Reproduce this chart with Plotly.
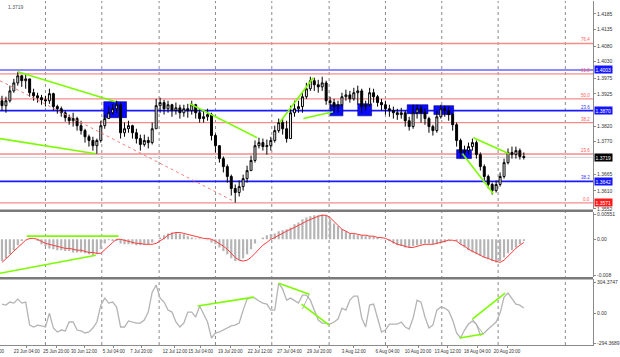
import plotly.graph_objects as go

# ---------------- DATA ----------------
closes = [
    1.3887, 1.3903, 1.3935, 1.3961, 1.3984, 1.3968, 1.3974, 1.3929, 1.3919, 1.3913,
    1.3906, 1.3903, 1.3926, 1.3884, 1.3877, 1.3864, 1.3848, 1.3838, 1.3845, 1.3822,
    1.3806, 1.3786, 1.3774, 1.3757, 1.3774, 1.3822, 1.3845, 1.3864, 1.3877, 1.3890,
    1.3799, 1.3812, 1.3822, 1.3799, 1.3780, 1.3761, 1.3774, 1.3767, 1.3812, 1.3887,
    1.3897, 1.3877, 1.3890, 1.3871, 1.3880, 1.3864, 1.3877, 1.3871, 1.3890, 1.3864,
    1.3845, 1.3851, 1.3858, 1.3790, 1.3757, 1.3715, 1.3689, 1.3657, 1.3618, 1.3605,
    1.3624, 1.3650, 1.3676, 1.3709, 1.3757, 1.3767, 1.3754, 1.3757, 1.3774, 1.3806,
    1.3832, 1.3812, 1.3780, 1.3864, 1.3877, 1.3884, 1.3916, 1.3942, 1.3968, 1.3955,
    1.3948, 1.3961, 1.3903, 1.3897, 1.3884, 1.3890, 1.3916, 1.3922, 1.3909, 1.3929,
    1.3935, 1.3884, 1.3890, 1.3929, 1.3916, 1.3897, 1.3890, 1.3877, 1.3871, 1.3864,
    1.3858, 1.3864, 1.3838, 1.3819, 1.3864, 1.3877, 1.3864, 1.3845, 1.3819, 1.3806,
    1.3851, 1.3877, 1.3871, 1.3858, 1.3825, 1.3774, 1.3735, 1.3741, 1.3754, 1.3767,
    1.3728, 1.3689, 1.3657, 1.3631, 1.3611, 1.3631, 1.3657, 1.3702, 1.3735, 1.3728,
    1.3741, 1.3722, 1.3719]

highs = [
    1.3919, 1.3916, 1.3952, 1.3974, 1.3997, 1.3987, 1.3990, 1.3974, 1.3942, 1.3929,
    1.3922, 1.3919, 1.3942, 1.3929, 1.3890, 1.3884, 1.3871, 1.3858, 1.3864, 1.3851,
    1.3838, 1.3812, 1.3793, 1.3786, 1.3780, 1.3838, 1.3858, 1.3884, 1.3893, 1.3903,
    1.3897, 1.3832, 1.3838, 1.3825, 1.3812, 1.3793, 1.3793, 1.3786, 1.3832, 1.3909,
    1.3913, 1.3906, 1.3903, 1.3893, 1.3897, 1.3890, 1.3890, 1.3893, 1.3903, 1.3893,
    1.3877, 1.3871, 1.3877, 1.3864, 1.3796, 1.3757, 1.3722, 1.3696, 1.3663, 1.3631,
    1.3644, 1.3663, 1.3692, 1.3725, 1.3774, 1.3783, 1.3780, 1.3777, 1.3786, 1.3822,
    1.3845, 1.3845, 1.3838, 1.3887, 1.3903, 1.3903, 1.3929, 1.3961, 1.3981, 1.3978,
    1.3971, 1.3981, 1.3968, 1.3916, 1.3909, 1.3903, 1.3929, 1.3939, 1.3935, 1.3945,
    1.3952, 1.3942, 1.3903, 1.3945, 1.3942, 1.3922, 1.3909, 1.3903, 1.3890, 1.3884,
    1.3877, 1.3880, 1.3871, 1.3851, 1.3890, 1.3890, 1.3887, 1.3877, 1.3851, 1.3825,
    1.3871, 1.3890, 1.3887, 1.3884, 1.3864, 1.3832, 1.3780, 1.3757, 1.3767, 1.3780,
    1.3774, 1.3735, 1.3696, 1.3663, 1.3637, 1.3644, 1.3670, 1.3715, 1.3748, 1.3754,
    1.3754, 1.3748, 1.3735]

lows = [
    1.3871, 1.3864, 1.3897, 1.3929, 1.3952, 1.3948, 1.3942, 1.3916, 1.3903, 1.3897,
    1.3890, 1.3884, 1.3893, 1.3871, 1.3861, 1.3851, 1.3835, 1.3825, 1.3819, 1.3806,
    1.3793, 1.3767, 1.3754, 1.3741, 1.3731, 1.3767, 1.3812, 1.3845, 1.3858, 1.3864,
    1.3780, 1.3786, 1.3799, 1.3780, 1.3764, 1.3741, 1.3754, 1.3748, 1.3761, 1.3812,
    1.3864, 1.3858, 1.3864, 1.3851, 1.3858, 1.3845, 1.3851, 1.3848, 1.3858, 1.3845,
    1.3832, 1.3832, 1.3838, 1.3774, 1.3735, 1.3702, 1.3670, 1.3637, 1.3595, 1.3572,
    1.3592, 1.3611, 1.3637, 1.3676, 1.3702, 1.3748, 1.3741, 1.3728, 1.3741, 1.3767,
    1.3799, 1.3793, 1.3767, 1.3780, 1.3851, 1.3864, 1.3864, 1.3909, 1.3935, 1.3935,
    1.3929, 1.3935, 1.3890, 1.3877, 1.3864, 1.3864, 1.3884, 1.3903, 1.3897, 1.3903,
    1.3890, 1.3864, 1.3871, 1.3884, 1.3897, 1.3884, 1.3871, 1.3858, 1.3851, 1.3845,
    1.3841, 1.3845, 1.3819, 1.3806, 1.3812, 1.3845, 1.3832, 1.3825, 1.3799, 1.3790,
    1.3799, 1.3845, 1.3851, 1.3838, 1.3806, 1.3754, 1.3718, 1.3722, 1.3728, 1.3741,
    1.3715, 1.3676, 1.3644, 1.3618, 1.3598, 1.3605, 1.3624, 1.3650, 1.3696, 1.3715,
    1.3715, 1.3712, 1.3712]

first_open = 1.3903
opens = [first_open] + closes[:-1]
bars = list(range(len(closes)))

macd_hist = [
    -0.0048, -0.0042, -0.0033, -0.0024, -0.0013, -0.0004, 0.0, 0.0002, 0.0, -0.0004,
    -0.0011, -0.0015, -0.0020, -0.0022, -0.0024, -0.0024, -0.0026, -0.0026, -0.0029, -0.0029,
    -0.0029, -0.0031, -0.0033, -0.0035, -0.0033, -0.0022, -0.0009, -0.0002, -0.0004, -0.0004,
    -0.0009, -0.0011, -0.0011, -0.0011, -0.0013, -0.0013, -0.0011, -0.0011, -0.0007, 0.0,
    0.0004, 0.0009, 0.0013, 0.0015, 0.0015, 0.0013, 0.0011, 0.0007, 0.0004, 0.0002,
    0.0002, 0.0, -0.0002, -0.0007, -0.0011, -0.0018, -0.0026, -0.0033, -0.0042, -0.0048,
    -0.0046, -0.0042, -0.0033, -0.0022, -0.0009, 0.0, 0.0004, 0.0009, 0.0011, 0.0013,
    0.0018, 0.0020, 0.0022, 0.0026, 0.0033, 0.0037, 0.0044, 0.0048, 0.0051, 0.0053,
    0.0053, 0.0055, 0.0053, 0.0044, 0.0035, 0.0029, 0.0022, 0.0018, 0.0013, 0.0011,
    0.0009, 0.0009, 0.0007, 0.0007, 0.0007, 0.0004, 0.0002, 0.0, -0.0004, -0.0009,
    -0.0013, -0.0015, -0.0018, -0.0018, -0.0015, -0.0013, -0.0011, -0.0009, -0.0009, -0.0011,
    -0.0011, -0.0009, -0.0007, -0.0002, 0.0, -0.0004, -0.0011, -0.0018, -0.0024, -0.0029,
    -0.0033, -0.0037, -0.0040, -0.0044, -0.0048, -0.0051, -0.0048, -0.0040, -0.0031, -0.0024,
    -0.0018, -0.0011, -0.0004]

macd_signal = [
    -0.0051, -0.0044, -0.0035, -0.0026, -0.0018, -0.0009, -0.0002, 0.0002, 0.0002, 0.0,
    -0.0004, -0.0009, -0.0011, -0.0013, -0.0015, -0.0018, -0.0020, -0.0020, -0.0022, -0.0024,
    -0.0024, -0.0026, -0.0029, -0.0029, -0.0031, -0.0031, -0.0024, -0.0015, -0.0007, 0.0,
    0.0, -0.0002, -0.0004, -0.0007, -0.0009, -0.0009, -0.0011, -0.0011, -0.0011, -0.0009,
    -0.0004, 0.0002, 0.0009, 0.0013, 0.0015, 0.0015, 0.0013, 0.0011, 0.0009, 0.0007,
    0.0004, 0.0002, 0.0002, 0.0, -0.0004, -0.0009, -0.0015, -0.0022, -0.0031, -0.0040,
    -0.0046, -0.0048, -0.0046, -0.0040, -0.0031, -0.0022, -0.0013, -0.0007, 0.0, 0.0004,
    0.0009, 0.0013, 0.0018, 0.0022, 0.0026, 0.0031, 0.0035, 0.0040, 0.0044, 0.0048,
    0.0051, 0.0053, 0.0053, 0.0048, 0.0040, 0.0031, 0.0022, 0.0018, 0.0013, 0.0013,
    0.0011, 0.0009, 0.0009, 0.0007, 0.0007, 0.0004, 0.0004, 0.0002, -0.0002, -0.0007,
    -0.0011, -0.0013, -0.0015, -0.0018, -0.0018, -0.0015, -0.0013, -0.0011, -0.0011, -0.0011,
    -0.0009, -0.0007, -0.0004, -0.0002, -0.0002, -0.0004, -0.0011, -0.0015, -0.0022, -0.0026,
    -0.0031, -0.0035, -0.0040, -0.0042, -0.0046, -0.0048, -0.0051, -0.0046, -0.0037, -0.0029,
    -0.0020, -0.0013, -0.0007]

cci = [
    88, 78, 108, 98, 137, 98, 108, -118, -137, -118,
    -127, -137, 0, -147, -186, -167, -176, -88, -88, -167,
    -176, -196, -186, -147, -88, 78, 147, 98, 108, 59,
    -137, -137, -78, -88, -98, -98, -69, 10, 206, 274,
    147, 108, 29, 10, -88, -137, -98, 10, 10, -39,
    69, -10, -88, -245, -196, -186, -167, -147, -127, -118,
    -98, 29, 137, 157, 147, 118, 98, 88, 29, 29,
    294, 235, 127, 147, 118, 98, 176, 176, 127, 29,
    -69, -98, -98, -108, -88, -59, 49, 29, 127, 167,
    167, -49, -137, 78, 88, -49, -186, -167, -108, -108,
    -108, -88, -137, -157, -49, 127, 108, -39, -147, -118,
    29, 59, 49, 20, -69, -196, -245, -167, -108, -78,
    -108, -216, -196, -157, -118, -88, 0, 157, 196, 147,
    88, 78, 49]

xtick_pos = [6.25, 13.75, 20.75, 28.25, 35.25, 43.75, 50.25, 57.75, 65.25,
             72.75, 80.25, 89, 97.5, 105.25, 112.75, 120.25, 127.75]
xtick_text = ["23 Jun 04:00", "25 Jun 20:00", "30 Jun 12:00", "5 Jul 04:00",
              "7 Jul 20:00", "12 Jul 12:00", "15 Jul 04:00", "19 Jul 20:00",
              "22 Jul 12:00", "27 Jul 04:00", "29 Jul 20:00", "3 Aug 12:00",
              "6 Aug 04:00", "10 Aug 20:00", "13 Aug 12:00", "18 Aug 04:00",
              "20 Aug 20:00"]
week_seps = [11, 25.25, 39.75, 54, 68.25, 82.75, 97, 111.25, 125.5, 142.5]

price_ticks = [1.4185, 1.4135, 1.4080, 1.4030, 1.3975, 1.3925, 1.3820,
               1.3770, 1.3665, 1.3610, 1.3552]
fib_levels = [1.4089, 1.3990, 1.3909, 1.3832, 1.3730, 1.3571]
fib_names = ["76.4", "61.8", "50.0", "38.2", "23.6", "0.0"]
blue_levels = [1.3871, 1.3641]
blue_names = ["23.6", "38.2"]
upper_level = 1.4003
current_price = 1.3719
boxed_values = [1.4003, 1.3870, 1.3719, 1.3642, 1.3571]
boxed_texts = ["1.4003", "1.3870", "1.3719", "1.3642", "1.3571"]
boxed_colors = ["#1414ff", "#1414ff", "#000000", "#1414ff", "#ff1a1a"]

zone_x0 = [25.75, 83.0, 90.0, 102.5, 109.25, 115.0]
zone_x1 = [31.5, 86.25, 93.5, 107.75, 114.25, 118.75]
zone_p0 = [1.3848, 1.3854, 1.3854, 1.3861, 1.3858, 1.3715]
zone_p1 = [1.3900, 1.3890, 1.3893, 1.3890, 1.3887, 1.3744]

price_trend_x = [(4, 28.75), (-0.5, 23.75), (47.5, 64.5), (70.25, 78.75),
                 (76.25, 83.75), (119.25, 128.25), (116.5, 124.25)]
price_trend_y = [(1.3997, 1.3900), (1.3780, 1.3731), (1.3893, 1.3783), (1.3832, 1.3978),
                 (1.3845, 1.3867), (1.3783, 1.3731), (1.3731, 1.3602)]
channel_x = [-0.5, 58.25]
channel_y = [1.3968, 1.3579]

macd_trend_x = [(6.25, 29.5), (-0.5, 23.75)]
macd_trend_y = [(0.0007, 0.0007), (-0.0075, -0.0035)]

cci_trend_x = [(49.5, 63.75), (70, 77.75), (75.75, 82.75), (115.75, 121.75), (119, 127.25)]
cci_trend_y = [(69, 157), (294, 186), (88, -118), (-245, -206), (-59, 196)]
cci_link_x = [(77.75, 76), (119, 121.75)]
cci_link_y = [(186, 39), (-59, -206)]

# ---------------- FIGURE ----------------
FONT = "Liberation Sans"
GREEN = "#7cfc00"
fig = go.Figure()

fig.add_trace(go.Candlestick(
    x=bars, open=opens, high=highs, low=lows, close=closes,
    increasing=dict(line=dict(color="black", width=1), fillcolor="white"),
    decreasing=dict(line=dict(color="black", width=1), fillcolor="black"),
    whiskerwidth=0, xaxis="x", yaxis="y", showlegend=False, hoverinfo="skip"))

fig.add_trace(go.Scatter(x=channel_x, y=channel_y, mode="lines",
                         line=dict(color="#f08080", width=1, dash="dot"),
                         yaxis="y", showlegend=False, hoverinfo="skip"))
for xs, ys in zip(price_trend_x, price_trend_y):
    fig.add_trace(go.Scatter(x=list(xs), y=list(ys), mode="lines",
                             line=dict(color=GREEN, width=1.6),
                             yaxis="y", showlegend=False, hoverinfo="skip"))

fig.add_trace(go.Bar(x=bars, y=macd_hist, width=0.55, marker=dict(color="#b4b4b4", line=dict(width=0)),
                     yaxis="y2", showlegend=False, hoverinfo="skip"))
fig.add_trace(go.Scatter(x=bars, y=macd_signal, mode="lines",
                         line=dict(color="#ff3b3b", width=1),
                         yaxis="y2", showlegend=False, hoverinfo="skip"))
for xs, ys in zip(macd_trend_x, macd_trend_y):
    fig.add_trace(go.Scatter(x=list(xs), y=list(ys), mode="lines",
                             line=dict(color=GREEN, width=1.6),
                             yaxis="y2", showlegend=False, hoverinfo="skip"))

fig.add_trace(go.Scatter(x=bars, y=cci, mode="lines",
                         line=dict(color="#b4b4b4", width=1.3),
                         yaxis="y3", showlegend=False, hoverinfo="skip"))
for xs, ys in zip(cci_link_x, cci_link_y):
    fig.add_trace(go.Scatter(x=list(xs), y=list(ys), mode="lines",
                             line=dict(color="#a0a0a0", width=0.8),
                             yaxis="y3", showlegend=False, hoverinfo="skip"))
for xs, ys in zip(cci_trend_x, cci_trend_y):
    fig.add_trace(go.Scatter(x=list(xs), y=list(ys), mode="lines",
                             line=dict(color=GREEN, width=1.6),
                             yaxis="y3", showlegend=False, hoverinfo="skip"))

shapes = []
for s in week_seps:
    shapes.append(dict(type="line", xref="x", yref="paper", x0=s, x1=s, y0=0, y1=1,
                       line=dict(color="#8a8a8a", width=1, dash="dot"), layer="below"))
for a, b, p0, p1 in zip(zone_x0, zone_x1, zone_p0, zone_p1):
    shapes.append(dict(type="rect", xref="x", yref="y", x0=a, x1=b, y0=p0, y1=p1,
                       fillcolor="#0a0aff", line=dict(color="#000080", width=0.6), layer="below"))
for lv in fib_levels:
    shapes.append(dict(type="line", xref="paper", yref="y", x0=0, x1=1, y0=lv, y1=lv,
                       line=dict(color="#f58c8c", width=1.3), layer="below"))
shapes.append(dict(type="line", xref="paper", yref="y", x0=0, x1=1, y0=upper_level, y1=upper_level,
                   line=dict(color="#8c8cff", width=2), layer="below"))
for lv in blue_levels:
    shapes.append(dict(type="line", xref="paper", yref="y", x0=0, x1=1, y0=lv, y1=lv,
                       line=dict(color="#1a1aff", width=1.6), layer="below"))
shapes.append(dict(type="line", xref="paper", yref="y", x0=0, x1=1, y0=current_price, y1=current_price,
                   line=dict(color="#d2d2d2", width=1), layer="below"))
for yp in [0.3899, 0.1942]:
    shapes.append(dict(type="line", xref="paper", yref="paper", x0=0, x1=1, y0=yp, y1=yp,
                       line=dict(color="#7a7a7a", width=2.5)))

annotations = []
for lv, nm in zip(fib_levels, fib_names):
    annotations.append(dict(xref="paper", yref="y", x=0.998, y=lv, text=nm, showarrow=False,
                            xanchor="right", yanchor="bottom", yshift=-1,
                            font=dict(family=FONT, size=4.5, color="#ff5a5a")))
for lv, nm in zip(blue_levels, blue_names):
    annotations.append(dict(xref="paper", yref="y", x=0.998, y=lv, text=nm, showarrow=False,
                            xanchor="right", yanchor="bottom", yshift=-1,
                            font=dict(family=FONT, size=4.5, color="#3030ff")))
for v, t, c in zip(boxed_values, boxed_texts, boxed_colors):
    annotations.append(dict(xref="paper", yref="y", x=1, y=v, text=t, showarrow=False,
                            xanchor="left", xshift=1, bgcolor=c, borderpad=0.5,
                            font=dict(family=FONT, size=5, color="white")))
annotations.append(dict(xref="paper", yref="paper", x=0.01, y=0.997, text="1.3719",
                        showarrow=False, xanchor="left", yanchor="top",
                        font=dict(family=FONT, size=5, color="#555555")))
annotations.append(dict(xref="paper", yref="paper", x=0.012, y=0, yshift=-6, text="21 Jun 20:00",
                        showarrow=False, xanchor="right", yanchor="middle",
                        font=dict(family=FONT, size=4.5, color="#333333")))

axis_common = dict(showgrid=False, zeroline=False, showline=True, linecolor="#8a8a8a",
                   linewidth=1, ticks="outside", ticklen=2, tickcolor="#8a8a8a",
                   tickfont=dict(family=FONT, size=5, color="#333333"), fixedrange=True)

fig.update_layout(
    width=620, height=357,
    margin=dict(l=0, r=20, t=0, b=12),
    paper_bgcolor="white", plot_bgcolor="white",
    showlegend=False, dragmode=False,
    shapes=shapes, annotations=annotations,
    xaxis=dict(domain=[0, 1], range=[-0.5, 149.5], anchor="y3",
               tickvals=xtick_pos, ticktext=xtick_text, tickangle=0,
               showgrid=False, zeroline=False, showline=True, linecolor="#8a8a8a",
               ticks="outside", ticklen=2, tickcolor="#8a8a8a",
               tickfont=dict(family=FONT, size=4.5, color="#333333"),
               rangeslider=dict(visible=False), fixedrange=True),
    yaxis=dict(domain=[0.3942, 1.0], range=[1.3550, 1.4227], side="right", anchor="x",
               tickvals=price_ticks, ticktext=[f"{v:.4f}" for v in price_ticks], **axis_common),
    yaxis2=dict(domain=[0.1971, 0.3855], range=[-0.00836, 0.00594], side="right", anchor="x",
                tickvals=[0.00551, 0.0, -0.008], ticktext=["0.00551", "0.00", "-0.008"],
                **axis_common),
    yaxis3=dict(domain=[0.0, 0.1913], range=[-314, 333], side="right", anchor="x",
                tickvals=[304.3747, 0, -294.3689], ticktext=["304.3747", "0.00", "-294.3689"],
                **axis_common),
)

fig.write_html("out.html", config={"displayModeBar": False, "staticPlot": True},
               post_script="document.body.style.margin='0';document.body.style.overflow='hidden';")
